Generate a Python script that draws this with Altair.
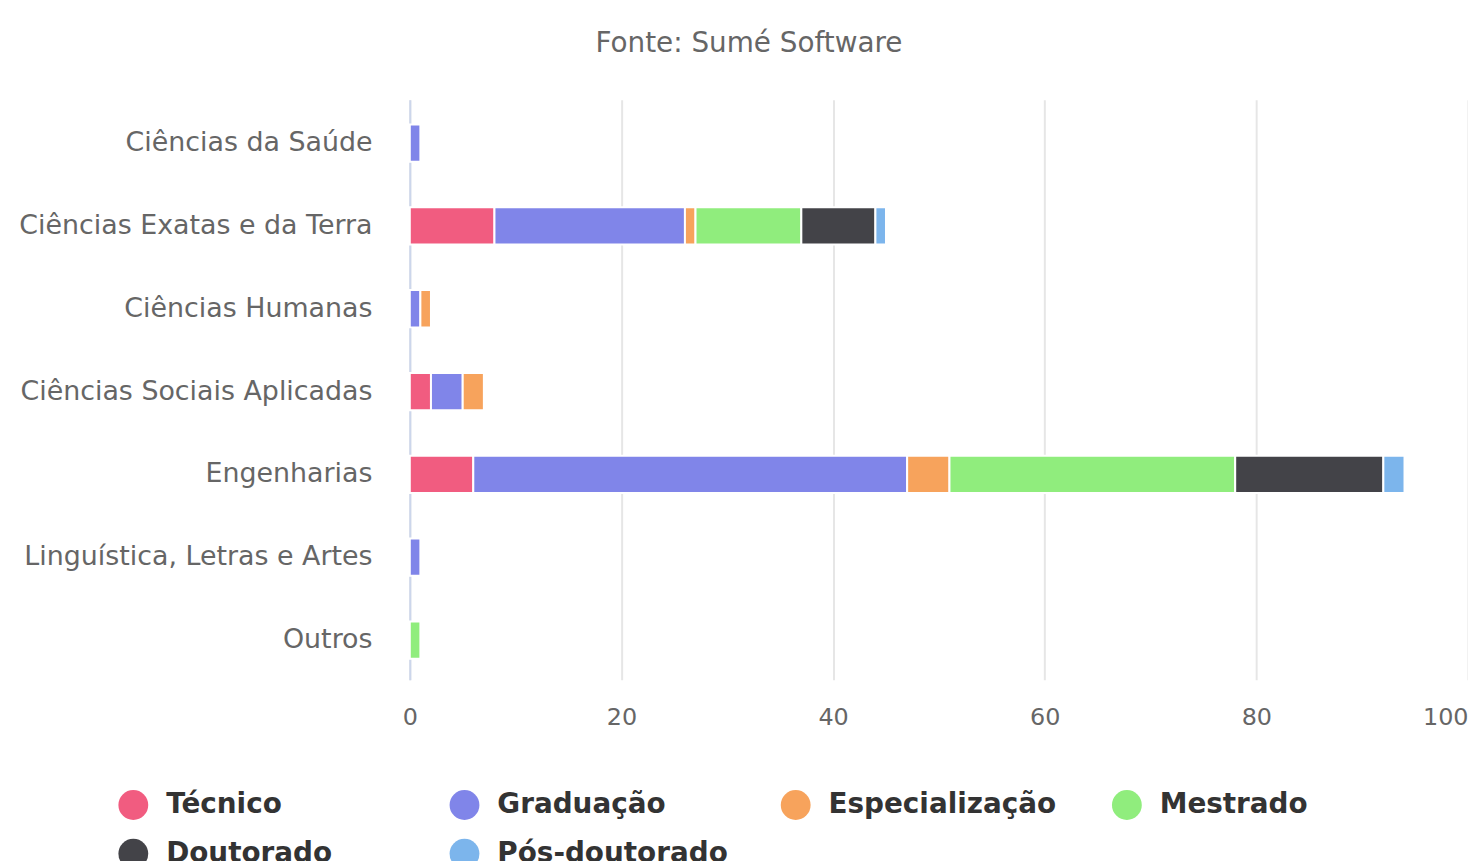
import altair as alt
import pandas as pd

categories = [
    "Ciências da Saúde",
    "Ciências Exatas e da Terra",
    "Ciências Humanas",
    "Ciências Sociais Aplicadas",
    "Engenharias",
    "Linguística, Letras e Artes",
    "Outros",
]
levels = ["Técnico", "Graduação", "Especialização", "Mestrado", "Doutorado", "Pós-doutorado"]
colors = ["#f15c80", "#8085e9", "#f7a35c", "#90ed7d", "#434348", "#7cb5ec"]

tecnico = [0, 8, 0, 2, 6, 0, 0]
graduacao = [1, 18, 1, 3, 41, 1, 0]
especializacao = [0, 1, 1, 2, 4, 0, 0]
mestrado = [0, 10, 0, 0, 27, 0, 1]
doutorado = [0, 7, 0, 0, 14, 0, 0]
pos_doutorado = [0, 1, 0, 0, 2, 0, 0]
x_ticks = [0, 20, 40, 60, 80, 100]

series = [tecnico, graduacao, especializacao, mestrado, doutorado, pos_doutorado]
rows = []
for li, (lvl, vals) in enumerate(zip(levels, series)):
    for cat, v in zip(categories, vals):
        if v > 0:
            rows.append({"categoria": cat, "nivel": lvl, "valor": v, "ordem": li})
df = pd.DataFrame(rows)

FONT = "DejaVu Sans"

bars = alt.Chart(df).mark_bar(stroke="white", strokeWidth=2).encode(
    y=alt.Y(
        "categoria:N",
        sort=categories,
        scale=alt.Scale(paddingInner=0.55, paddingOuter=0.275, align=0.54),
        axis=alt.Axis(
            title=None,
            labelFontSize=27,
            labelColor="#666666",
            labelFont=FONT,
            labelPadding=38,
            ticks=False,
            domainColor="#ccd6eb",
            domainWidth=2,
            grid=False,
            labelLimit=500,
        ),
    ),
    x=alt.X(
        "valor:Q",
        stack="zero",
        scale=alt.Scale(domain=[0, 100], nice=False),
        axis=alt.Axis(
            values=x_ticks,
            title=None,
            grid=True,
            gridColor="#e6e6e6",
            gridWidth=2,
            domain=False,
            ticks=False,
            labelFontSize=24,
            labelColor="#666666",
            labelFont=FONT,
            labelPadding=26,
            labelAlign={"condition": {"test": "datum.value == 100", "value": "right"}, "value": "center"},
        ),
    ),
    color=alt.Color(
        "nivel:N",
        sort=levels,
        scale=alt.Scale(domain=levels, range=colors),
        legend=alt.Legend(
            title=None,
            orient="none",
            legendX=-293,
            legendY=694,
            direction="horizontal",
            columns=4,
            gridAlign="all",
            symbolType="circle",
            symbolSize=900,
            symbolStrokeWidth=0,
            labelFontSize=28,
            labelFontWeight="bold",
            labelColor="#333333",
            labelFont=FONT,
            labelOffset=18,
            columnPadding=53,
            rowPadding=19,
            labelLimit=400,
        ),
    ),
    order=alt.Order("ordem:Q"),
)

chart = bars.properties(
    width=1064,
    height=583,
    padding={"left": 404, "top": 90, "right": 0, "bottom": 180},
    autosize=alt.AutoSizeParams(type="none"),
    title=alt.TitleParams(
        "Fonte: Sumé Software",
        fontSize=28,
        color="#666666",
        font=FONT,
        fontWeight="normal",
        anchor="middle",
        dx=-191,
        offset=42,
    ),
).configure_view(stroke=None)

chart.save("out.html", embed_options={"renderer": "svg", "actions": False})
